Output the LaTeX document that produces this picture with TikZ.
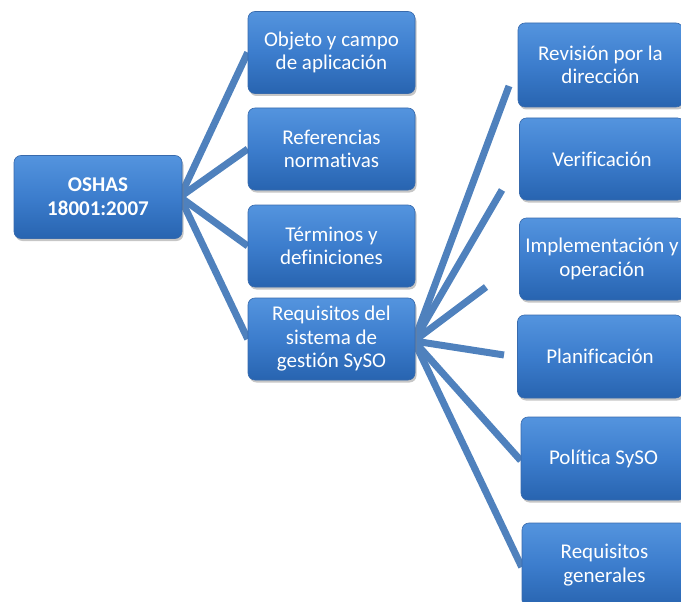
\documentclass[tikz,border=0pt]{standalone}
\usepackage{fontspec}
\setmainfont[Ligatures=NoCommon]{Carlito}
\usetikzlibrary{shadows,backgrounds}
\definecolor{linkblue}{RGB}{79,129,189}
\definecolor{boxtop}{RGB}{84,148,222}
\definecolor{boxbot}{RGB}{40,100,176}
\definecolor{boxedge}{RGB}{56,106,172}
\tikzset{
  box/.style={draw=boxedge, line width=0.6pt, rounded corners=7pt,
    top color=boxtop, bottom color=boxbot, middle color={rgb,255:red,60;green,125;blue,205},
    text=white, align=center, inner sep=2pt,
    font=\fontsize{21}{23.5}\selectfont,
    drop shadow={opacity=0.45, shadow xshift=1.5pt, shadow yshift=-2.5pt}},
  link/.style={linkblue, line width=7pt}
}
\begin{document}
\begin{tikzpicture}[x=1pt,y=1pt]
\useasboundingbox (0,0) rectangle (681,-602);
\clip (0,0) rectangle (681,-602);
% root
\node[box, minimum width=168pt, minimum height=83pt, font=\fontsize{21}{24}\selectfont\bfseries] (osh) at (98,-197) {OSHAS\\18001:2007};
% level 1
\node[box, minimum width=167pt, minimum height=82pt] (obj) at (331.5,-52.5) {Objeto y campo\\de aplicación};
\node[box, minimum width=167pt, minimum height=82pt] (ref) at (331.5,-149) {Referencias\\normativas};
\node[box, minimum width=167pt, minimum height=82pt] (ter) at (331.5,-246) {Términos y\\definiciones};
\node[box, minimum width=167pt, minimum height=82pt] (req) at (331.5,-339) {Requisitos del\\sistema de\\gestión SySO};
% level 2
\node[box, minimum width=165pt, minimum height=84pt] (rev) at (600.5,-65) {Revisión por la\\dirección};
\node[box, minimum width=165pt, minimum height=82pt] (ver) at (602,-159) {Verificación};
\node[box, minimum width=165pt, minimum height=82pt] (imp) at (602,-259) {Implementación y\\operación};
\node[box, minimum width=165pt, minimum height=83pt] (pla) at (600,-356.5) {Planificación};
\node[box, minimum width=165pt, minimum height=83pt] (pol) at (603.5,-458.5) {Política SySO};
\node[box, minimum width=165pt, minimum height=84pt] (rge) at (604.5,-565) {Requisitos\\generales};
% connector ends
\coordinate (h1) at (180,-197);
\coordinate (h2) at (414,-341);
\coordinate (e1) at (509,-86);
\coordinate (e2) at (502,-190);
\coordinate (e3) at (486,-287);
\coordinate (e4) at (504,-355);
\begin{pgfonlayer}{background}
\foreach \t in {obj,ref,ter,req} \draw[link] (h1) -- (\t.west);
\foreach \t in {e1,e2,e3,e4} \draw[link] (h2) -- (\t);
\draw[link] (h2) -- ([yshift=-2pt]pol.west);
\draw[link] (h2) -- ([yshift=-2pt]rge.west);
\end{pgfonlayer}
\end{tikzpicture}
\end{document}
